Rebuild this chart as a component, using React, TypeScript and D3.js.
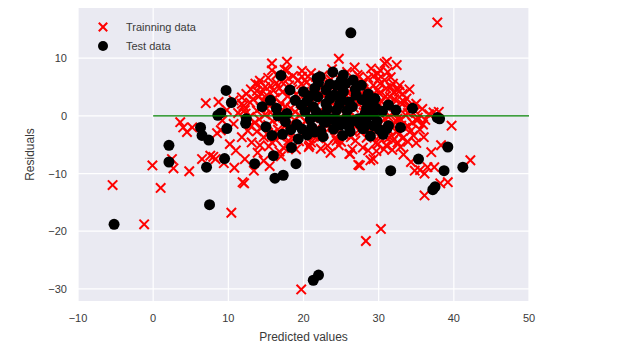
import React from "react";
import * as d3 from "d3";

// residual plot: predicted values vs residuals
const xTicks = [-10, 0, 10, 20, 30, 40, 50];
const yTicks = [-30, -20, -10, 0, 10];

const trainX = [
  -5.4, -1.2, 1.0, -0.1, 2.7, 4.8, 3.6, 4.5, 4.0, 7.0, 6.5, 7.6, 8.3, 9.4, 2.5,
  12.1, 10.4, 19.7, 28.3, 30.3, 36.1, 37.8, 24.7, 15.8, 17.8, 15.8, 17.8, 31.1,
  32.4, 30.2, 31.6, 32.7, 38.0, 39.7, 36.0, 42.2, 37.0, 38.3, 26.2, 27.3, 28.9,
  34.3, 35.5, 24.7, 36.5, 37.4, 34.8, 36.1, 39.2, 38.2, 33.0, 32.5, 33.4, 32.5,
  10.7, 11.8, 13.6, 14.9, 19.8, 14.4, 20.6, 30.8, 31.2, 29.9, 30.8, 31.9, 29.3,
  30.1, 8.7, 11.8, 12.2, 11.9, 14.2, 13.1, 10.7, 18.0, 20.7, 20.8, 24.4, 26.1,
  27.5, 28.6, 29.3, 29.9, 31.0, 31.9, 8.0, 9.0,
  16.5, 18.6, 21.0, 22.6, 25.8, 27.2, 28.6,
  14.2, 17.1, 19.3, 20.4, 23.6, 26.3, 28.0, 30.0,
  13.0, 15.6, 16.8, 18.1, 21.2, 22.5, 24.9, 26.9, 28.8, 31.0,
  12.4, 15.1, 17.2, 19.0, 20.1, 23.1, 25.7, 27.7, 29.6, 31.5, 33.2,
  13.3, 14.7, 16.2, 18.4, 21.6, 24.2, 26.5, 28.3, 30.4, 32.1,
  12.0, 15.7, 17.6, 19.6, 22.9, 25.1, 27.3, 29.1, 31.8, 33.8,
  13.8, 16.0, 18.9, 20.8, 23.7, 26.0, 28.0, 30.6, 34.9, 35.8,
  12.8, 14.9, 17.3, 19.5, 21.9, 24.6, 27.0, 29.4, 31.3, 33.6, 35.2, 36.7,
  13.5, 15.9, 18.2, 20.3, 22.4, 25.3, 27.8, 30.2, 32.4, 34.5, 36.2,
  14.4, 16.6, 19.1, 21.1, 23.9, 26.4, 28.9, 31.4, 33.5, 35.5,
  15.2, 17.7, 20.0, 22.7, 25.5, 27.6, 30.1, 32.8, 34.6,
  16.3, 19.4, 22.0, 26.9, 28.4, 31.2, 33.9,
  15.4, 17.4, 23.2, 27.9, 30.7, 32.9,
  16.8, 23.6, 29.7, 33.3,
  5.2, 8.5, 9.8, 10.2, 11.3, 12.6, 13.9, 11.0, 14.7, 13.4, 10.8, 15.5, 17.0,
  9.2, 12.2,
  17.5, 19.8, 23.8, 26.8, 29.0,
  15.3, 18.0, 21.7, 24.8, 27.4, 29.3, 31.6,
  14.0, 16.4, 19.7, 23.2, 25.9, 27.9, 30.2, 32.8,
  13.8, 16.0, 18.5, 21.8, 24.1, 26.1, 29.8, 32.0, 34.1,
  11.8, 14.0, 17.9, 20.6, 22.7, 24.9, 28.9, 30.9, 33.7,
  12.9, 15.2, 17.0, 20.3, 23.6, 26.0, 27.8, 30.0, 32.9, 35.0,
  14.3, 16.8, 18.3, 21.5, 24.3, 26.7, 29.7, 31.0, 34.2,
  12.3, 15.6, 17.8, 20.0, 22.6, 25.4, 28.6, 32.2, 33.9, 37.3,
  14.1, 16.6, 18.8, 21.3, 23.3, 26.1, 28.4, 30.8, 32.9, 35.1,
  12.9, 15.3, 17.5, 19.8, 23.1, 26.6, 29.5, 31.9, 33.9, 35.9,
  13.8, 16.0, 18.2, 20.6, 24.6, 27.4, 30.4, 32.4, 34.3,
  14.7, 16.9, 18.8, 21.4, 24.2, 26.3, 29.2, 31.7, 33.2,
  15.8, 18.0, 21.0, 25.0, 29.6, 32.5, 35.0,
  19.0, 22.3, 26.5, 31.8,
];
const trainY = [
  -12.0, -18.8, -12.5, -8.6, -9.1, -9.6, -1.1, -2.8, -2.0, 2.2, -7.5, -6.9, -7.5,
  -8.2, -7.5, -11.7, -16.8, -30.1, -21.7, -19.6, -13.8, 16.2, 9.9, 9.1, 9.4, 7.9,
  7.9, 9.4, 8.8, 7.9, 5.0, 4.2, 0.7, -1.7, -3.7, -7.7, -6.3, -5.1, -6.6, -8.5,
  -7.7, -8.0, -9.4, -5.1, -8.9, -8.9, -9.5, -10.0, -11.5, -11.7, -1.7, -0.5, 2.4,
  4.5, 2.7, 2.1, 5.6, 5.0, 6.8, 3.9, 6.8, 9.1, 7.6, 7.3, 6.2, 5.6, 5.3, 3.9, 2.4,
  -3.7, -7.5, -11.5, -5.1, -4.6, -1.4, -4.3, -5.4, -5.1, -4.3, -6.6, -8.6, -6.0,
  -7.5, -4.9, -5.1, -4.3, -7.1, -2.5,
  7.2, 6.9, 7.4, 7.0, 7.6, 7.1, 6.6,
  6.1, 5.9, 6.2, 5.8, 6.3, 5.7, 6.0, 6.4,
  4.6, 5.2, 4.8, 5.3, 4.9, 5.1, 4.7, 5.0, 4.6, 4.8,
  3.8, 3.6, 4.1, 3.7, 4.2, 3.9, 3.5, 4.0, 3.6, 3.3, 3.8,
  2.9, 2.6, 3.1, 2.8, 3.0, 2.7, 3.2, 2.8, 2.5, 2.9,
  1.7, 2.0, 1.6, 2.2, 1.8, 1.5, 2.1, 1.7, 1.9, 1.4,
  0.9, 1.1, 0.7, 1.2, 0.8, 1.0, 0.6, 1.1, 0.8, 1.2,
  -0.2, 0.2, -0.3, 0.1, -0.1, 0.3, -0.4, 0.2, -0.2, 0.1, -0.3, 0.3,
  -1.2, -0.9, -1.4, -1.0, -1.3, -0.8, -1.1, -1.4, -1.0, -1.2, -0.7,
  -2.1, -2.4, -1.9, -2.3, -2.0, -2.5, -2.2, -2.6, -2.1, -2.4,
  -3.2, -2.9, -3.4, -3.1, -3.3, -2.8, -3.5, -3.0, -3.4,
  -4.1, -4.4, -3.9, -4.3, -3.8, -4.0, -4.5,
  -5.3, -5.6, -5.2, -5.5, -5.8, -5.4,
  -6.2, -6.4, -6.1, -6.7,
  -2.0, -3.0, 1.0, -4.9, 0.5, -2.6, -6.4, -6.0, -7.8, -9.5, -9.0, -8.7, -7.0,
  -0.8, 1.0,
  8.0, 7.8, 8.1, 8.4, 8.2,
  6.6, 6.5, 6.7, 6.4, 6.8, 6.9, 6.7,
  5.4, 5.7, 5.5, 5.6, 5.3, 5.5, 5.6, 5.3,
  4.3, 4.4, 4.6, 4.4, 4.5, 4.2, 4.4, 4.1, 4.6,
  3.2, 3.3, 3.4, 3.3, 3.5, 3.2, 3.3, 3.4, 3.0,
  2.3, 2.4, 2.2, 2.5, 2.4, 2.2, 2.5, 2.1, 2.3, 2.1,
  1.4, 1.5, 1.3, 1.5, 1.6, 1.4, 1.3, 1.6, 1.7,
  0.4, 0.6, 0.4, 0.6, 0.5, 0.4, 0.5, 0.6, 0.5, 0.6,
  -0.6, -0.5, -0.7, -0.4, -0.6, -0.5, -0.7, -0.5, -0.6, -0.8,
  -1.7, -1.6, -1.8, -1.5, -1.7, -1.5, -1.8, -1.6, -1.8, -1.5,
  -2.7, -2.9, -2.6, -2.8, -2.6, -2.4, -2.7, -2.8, -2.6,
  -3.7, -3.6, -3.9, -3.6, -3.8, -3.7, -3.4, -3.5, -3.9,
  -4.6, -4.8, -4.6, -4.5, -4.7, -4.6, -4.7,
  -5.8, -5.7, -5.8, -5.9,
];

const testX = [
  -5.2, 7.5, 21.3, 22.0, 37.5, 37.2, 26.3, 17.0, 9.7, 10.4, 9.0, 9.8, 6.3, 6.5,
  7.4, 2.1, 2.1, 7.1, 9.5, 12.4, 12.3, 13.5, 16.0, 19.0, 16.2, 17.3, 15.8, 19.3,
  15.6, 18.2, 18.9, 16.4, 20.0, 17.8, 21.8, 23.9, 22.2, 25.3, 26.6, 21.5, 27.7,
  24.4, 23.0, 25.3, 27.0, 29.0, 31.3, 23.0, 24.8, 26.1, 21.3, 28.4, 34.5, 32.3,
  37.8, 21.1, 21.5, 23.0, 23.9, 27.9, 29.3, 31.3, 31.6, 38.1, 39.2, 35.3, 38.7,
  41.2, 27.3, 29.3, 28.0, 31.1, 22.7, 23.6, 8.6,
  20.2, 21.9, 22.8, 24.1, 24.9, 25.8, 26.8, 25.6, 20.9, 19.7, 22.3, 26.2, 24.4,
  28.6, 29.8, 30.5, 20.5, 19.1, 18.3, 17.6, 26.9, 23.5, 22.6, 25.2, 28.9, 30.6,
  32.9, 18.4, 17.2, 16.6, 15.0, 14.5,
  21.0, 22.0, 23.5, 24.0, 25.7, 26.5, 27.5, 28.2, 22.1, 20.5, 25.0, 27.8, 29.6,
  30.1, 24.5, 23.2, 19.8, 26.0, 21.7, 25.1, 28.3, 29.5,
];
const testY = [
  -18.8, -15.4, -28.5, -27.6, -12.3, -12.8, 14.4, 7.0, 4.4, 2.3, 0.5, -2.2, -2.0,
  -3.4, -4.2, -5.1, -8.0, -8.9, -7.4, -0.5, -1.3, -8.3, -6.9, -8.3, -10.8, -10.3,
  -3.4, -4.0, 2.7, 4.5, 2.7, 1.3, 4.2, 0.4, 6.5, 7.6, 6.8, 7.1, 6.2, 4.8, 5.3,
  5.3, 4.5, 4.2, 3.6, 2.4, 1.9, 2.1, 2.1, 2.4, 1.6, 1.3, 1.3, 1.0, -0.3, -2.0,
  -2.8, -1.1, -0.5, -2.2, -1.7, -1.7, -9.5, -0.5, -5.4, -7.5, -9.5, -8.9, -0.5,
  0.1, -2.2, -2.2, -1.0, -0.5, 0.1,
  0.8, 3.3, 0.2, 3.6, -1.6, 0.9, -0.8, 5.6, -0.6, 1.9, -2.6, -2.7, 1.0, 3.8,
  -0.9, 0.8, -3.3, -1.5, -2.4, -1.0, 4.6, 5.5, -3.6, -3.4, -3.5, -3.2, -2.0,
  -5.5, -3.2, 0.0, -1.9, 1.6,
  3.5, 5.8, 3.0, -2.3, -0.4, 1.6, -1.4, 0.4, -0.3, 2.6, 6.1, 2.8, 1.4,
  -2.4, -0.8, 1.2, -2.3, -1.8, 0.7, 2.8, -0.9, 3.0,
];

const W = 640;
const H = 358;
const left = 78;
const right = 529;
const top = 8;
const bottom = 301;
const font = "'Liberation Sans', Arial, sans-serif";

const Cross = ({ cx, cy, s = 4.7 }) => (
  <g stroke="#ff0000" strokeWidth={2}>
    <line x1={cx - s} y1={cy - s} x2={cx + s} y2={cy + s} />
    <line x1={cx - s} y1={cy + s} x2={cx + s} y2={cy - s} />
  </g>
);

export default function App() {
  const x = d3.scaleLinear().domain([-10, 50]).range([left, right]);
  const y = d3.scaleLinear().domain([-32.1, 18.7]).range([bottom, top]);
  const fmt = t => d3.format("")(t).replace("-", "\u2212");

  return (
    <svg
      width={W}
      height={H}
      style={{ position: "absolute", left: 0, top: 0, fontFamily: font }}
    >
      <rect x={0} y={0} width={W} height={H} fill="#fff" />
      <rect x={left} y={top} width={right - left} height={bottom - top} fill="#eaeaf2" />
      {/* grid */}
      <g stroke="#fff" strokeWidth={1.2}>
        {xTicks.map(t => (
          <line key={"gx" + t} x1={x(t)} x2={x(t)} y1={top} y2={bottom} />
        ))}
        {yTicks.map(t => (
          <line key={"gy" + t} x1={left} x2={right} y1={y(t)} y2={y(t)} />
        ))}
      </g>

      {/* tick labels */}
      <g fontSize={11} fill="#3a3a3a">
        {xTicks.map(t => (
          <text key={"tx" + t} x={x(t)} y={322} textAnchor="middle">
            {fmt(t)}
          </text>
        ))}
        {yTicks.map(t => (
          <text key={"ty" + t} x={67} y={y(t) + 4} textAnchor="end">
            {fmt(t)}
          </text>
        ))}
      </g>

      <text x={(left + right) / 2} y={341} textAnchor="middle" fontSize={12} fill="#3a3a3a">
        Predicted values
      </text>
      <text
        transform={`translate(34,${(top + bottom) / 2}) rotate(-90)`}
        textAnchor="middle"
        fontSize={12}
        fill="#3a3a3a"
      >
        Residuals
      </text>

      {/* training points */}
      <g>
        {trainX.map((d, i) => (
          <Cross key={"tr" + i} cx={x(d)} cy={y(trainY[i])} />
        ))}
      </g>
      {/* test points */}
      <g fill="#000">
        {testX.map((d, i) => (
          <circle key={"te" + i} cx={x(d)} cy={y(testY[i])} r={5.5} />
        ))}
      </g>

      {/* zero line */}
      <line x1={x(0)} x2={x(50)} y1={y(0)} y2={y(0)} stroke="#008000" strokeWidth={1.2} />

      {/* legend */}
      <Cross cx={103} cy={27} s={4.2} />
      <circle cx={103} cy={46} r={5} fill="#000" />
      <g fontSize={11} fill="#3a3a3a">
        <text x={126} y={31}>Trainning data</text>
        <text x={126} y={50}>Test data</text>
      </g>
    </svg>
  );
}
